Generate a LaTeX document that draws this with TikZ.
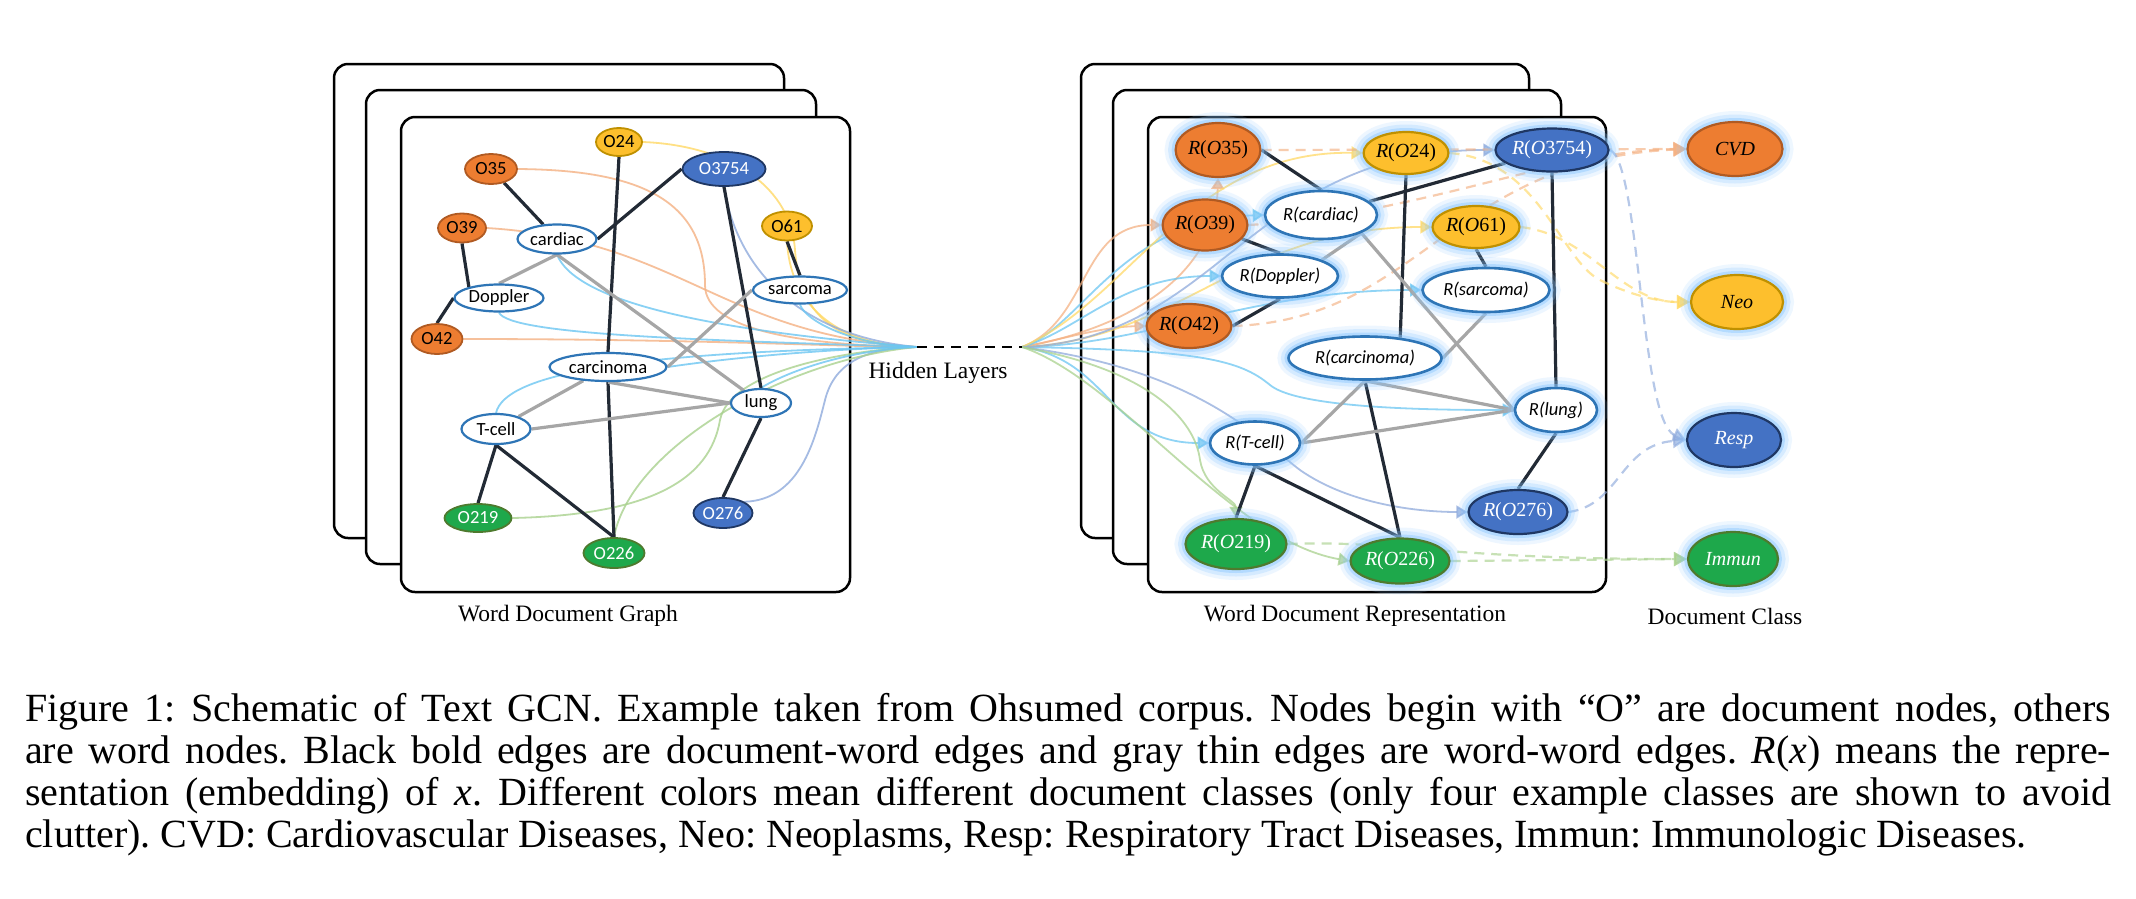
\documentclass[tikz,border=0pt]{standalone}
\usepackage{fontspec}
\setmainfont{Liberation Serif}
\newfontfamily\calibri{Carlito}
\usetikzlibrary{shapes.geometric,arrows.meta}
\frenchspacing

\definecolor{orfill}{HTML}{ED7D31}
\definecolor{orline}{HTML}{B05A22}
\definecolor{yefill}{HTML}{FDBF2D}
\definecolor{yeline}{HTML}{BF9000}
\definecolor{blfill}{HTML}{4472C4}
\definecolor{blline}{HTML}{1F3763}
\definecolor{grfill}{HTML}{1EA84B}
\definecolor{grline}{HTML}{4E7A2E}
\definecolor{wordline}{HTML}{2E75B6}
\definecolor{docline}{HTML}{222A35}
\definecolor{wordgray}{HTML}{A6A6A6}
\definecolor{glowblue}{HTML}{8CC8FF}
\definecolor{flowor}{HTML}{F4B183}
\definecolor{flowye}{HTML}{FFD966}
\definecolor{flowbl}{HTML}{8FAADC}
\definecolor{flowgr}{HTML}{A9D18E}
\definecolor{flowcy}{HTML}{6CC6F2}

\pgfdeclarelayer{frames}
\pgfdeclarelayer{flows}
\pgfdeclarelayer{edges}
\pgfsetlayers{frames,flows,edges,main}

% R(.) of a document node
\newcommand{\repdoc}[1]{\textit{R}(\textit{O}#1)}

\tikzset{
  frame/.style={draw, line width=2.5pt, fill=white, rounded corners=14pt},
  gdoc/.style={ellipse, line width=1.8pt, inner sep=0pt, font=\calibri\fontsize{18.6}{20}\selectfont},
  gword/.style={gdoc, draw=wordline, fill=white, line width=2.2pt},
  gor/.style={gdoc, draw=orline, fill=orfill},
  gye/.style={gdoc, draw=yeline, fill=yefill},
  gbl/.style={gdoc, draw=blline, fill=blfill, text=white},
  ggr/.style={gdoc, draw=grline, fill=grfill, text=white},
  glow/.style={preaction={draw=glowblue, line width=22pt, draw opacity=.15},
               preaction={draw=glowblue, line width=15pt, draw opacity=.25},
               preaction={draw=glowblue, line width=8pt, draw opacity=.45}},
  rdoc/.style={glow, ellipse, line width=2.2pt, inner sep=0pt, font=\fontsize{20}{22}\selectfont},
  rword/.style={glow, ellipse, draw=wordline, fill=white, line width=2.6pt, inner sep=0pt,
                font=\calibri\itshape\fontsize{18.5}{20}\selectfont},
  ror/.style={rdoc, draw=orline, fill=orfill},
  rye/.style={rdoc, draw=yeline, fill=yefill},
  rbl/.style={rdoc, draw=blline, fill=blfill, text=white},
  rgr/.style={rdoc, draw=grline, fill=grfill, text=white},
  docedge/.style={draw=docline, line width=3.2pt},
  wordedge/.style={draw=wordgray, line width=3.2pt},
  flowL/.style={line width=1.8pt, draw opacity=.8},
  flowR/.style={line width=1.8pt, opacity=.75, -{Triangle[width=13pt,length=11pt]}},
  classflow/.style={line width=2.2pt, dash pattern=on 10pt off 7pt, opacity=.65,
                    -{Triangle[width=14pt,length=13pt]}},
  lab/.style={inner sep=0pt, font=\fontsize{23.5}{26}\selectfont},
  caption/.style={anchor=base west, inner sep=0pt, text width=2086pt, align=justify,
                  font=\fontsize{40}{42.3}\selectfont}
}

\begin{document}
\begin{tikzpicture}[x=1pt, y=-1pt]
  \useasboundingbox (0,0) rectangle (2136,898);

  % stacked panels
  \begin{pgfonlayer}{frames}
    \draw[frame] (334,64) rectangle (784,538);
    \draw[frame] (366,90) rectangle (816,564);
    \draw[frame] (401,117) rectangle (850,592);
    \draw[frame] (1081,64) rectangle (1529,538);
    \draw[frame] (1113,90) rectangle (1561,564);
    \draw[frame] (1148,117) rectangle (1606,592);
  \end{pgfonlayer}

  % word document graph
  \node[gor, minimum width=52pt, minimum height=30pt] (O35) at (491,169) {O35};
  \node[gye, minimum width=46pt, minimum height=28pt] (O24) at (619,142) {O24};
  \node[gbl, minimum width=83pt, minimum height=34pt] (O3754) at (724,169) {O3754};
  \node[gor, minimum width=48pt, minimum height=29pt] (O39) at (462,228) {O39};
  \node[gword, minimum width=79pt, minimum height=29pt] (cardiac) at (557,239) {cardiac};
  \node[gye, minimum width=50pt, minimum height=29pt] (O61) at (787,226) {O61};
  \node[gword, minimum width=89pt, minimum height=27pt] (Doppler) at (499,298) {Doppler};
  \node[gword, minimum width=94pt, minimum height=27pt] (sarcoma) at (800,290) {sarcoma};
  \node[gor, minimum width=51pt, minimum height=30pt] (O42) at (437,339) {O42};
  \node[gword, minimum width=117pt, minimum height=28pt] (carcinoma) at (608,367) {carcinoma};
  \node[gword, minimum width=60pt, minimum height=28pt] (lung) at (761,403) {lung};
  \node[gword, minimum width=69pt, minimum height=30pt] (Tcell) at (496,429) {T-cell};
  \node[ggr, minimum width=67pt, minimum height=28pt] (O219) at (478,518) {O219};
  \node[ggr, minimum width=61pt, minimum height=30pt] (O226) at (614,553) {O226};
  \node[gbl, minimum width=59pt, minimum height=30pt] (O276) at (723,513) {O276};

  % word document representation
  \node[ror, minimum width=71pt, minimum height=54pt] (rO35) at (1218,150) {\repdoc{35}};
  \node[rye, minimum width=80pt, minimum height=42pt] (rO24) at (1406,153) {\repdoc{24}};
  \node[rbl, minimum width=94pt, minimum height=43pt] (rO3754) at (1552,150) {\repdoc{3754}};
  \node[ror, minimum width=72pt, minimum height=51pt] (rO39) at (1205,225) {\repdoc{39}};
  \node[rword, minimum width=112pt, minimum height=48pt] (rCardiac) at (1321,215) {R(cardiac)};
  \node[rye, minimum width=87pt, minimum height=42pt] (rO61) at (1476,227) {\repdoc{61}};
  \node[rword, minimum width=116pt, minimum height=43pt] (rDoppler) at (1280,276) {R(Doppler)};
  \node[rword, minimum width=127pt, minimum height=44pt] (rSarcoma) at (1486,290) {R(sarcoma)};
  \node[ror, minimum width=77pt, minimum height=44pt] (rO42) at (1189,326) {\repdoc{42}};
  \node[rword, minimum width=153pt, minimum height=43pt] (rCarcinoma) at (1365,358) {R(carcinoma)};
  \node[rword, minimum width=82pt, minimum height=44pt] (rLung) at (1556,410) {R(lung)};
  \node[rword, minimum width=90pt, minimum height=43pt] (rTcell) at (1255,443) {R(T-cell)};
  \node[rbl, minimum width=93pt, minimum height=44pt] (rO276) at (1518,512) {\repdoc{276}};
  \node[rgr, minimum width=101pt, minimum height=50pt] (rO219) at (1236,544) {\repdoc{219}};
  \node[rgr, minimum width=93pt, minimum height=45pt] (rO226) at (1400,561) {\repdoc{226}};

  % document classes
  \node[ror, minimum width=95pt, minimum height=54pt] (cvd) at (1735,149) {\textit{CVD}};
  \node[rye, minimum width=92pt, minimum height=54pt] (neo) at (1737,302) {\textit{Neo}};
  \node[rbl, minimum width=94pt, minimum height=54pt] (resp) at (1734,440) {\textit{Resp}};
  \node[rgr, minimum width=90pt, minimum height=54pt] (immun) at (1733,559) {\textit{Immun}};

  \coordinate (hubL) at (917,347);
  \coordinate (hubR) at (1022,347);
  \draw[line width=2.2pt, dash pattern=on 10pt off 7pt] (hubL) -- (hubR);

  \node[lab] (hidden) at (938,373) {Hidden Layers};
  \node[lab] (lgraph) at (568,616) {Word Document Graph};
  \node[lab] (lrep) at (1355,616) {Word Document Representation};
  \node[lab] (lclass) at (1725,616) {Document Class};

  \begin{pgfonlayer}{edges}
    % document-word edges
    \draw[docedge] (O35) -- (cardiac);
    \draw[docedge] (O3754.west) -- (cardiac.east);
    \draw[docedge] (O39.south) -- (Doppler.160);
    \draw[docedge] (Doppler.west) -- (O42.north);
    \draw[docedge] (O24.south) -- (carcinoma.north);
    \draw[docedge] (carcinoma.south) -- (O226.north);
    \draw[docedge] (O3754.south) -- (lung.north);
    \draw[docedge] (O61.south) -- (sarcoma.north);
    \draw[docedge] (lung.south) -- (O276.north);
    \draw[docedge] (Tcell.south) -- (O219.north);
    \draw[docedge] (Tcell.south) -- (O226.north);
    % word-word edges
    \draw[wordedge] (cardiac.south) -- (Doppler.north);
    \draw[wordedge] (cardiac.south) -- (lung);
    \draw[wordedge] (sarcoma.west) -- (carcinoma.east);
    \draw[wordedge] (carcinoma) -- (Tcell);
    \draw[wordedge] (carcinoma.south) -- (lung.west);
    \draw[wordedge] (Tcell.east) -- (lung.west);

    \draw[docedge] (rO35.east) -- (rCardiac.north);
    \draw[docedge] (rO3754) -- (rCardiac);
    \draw[docedge] (rO39) -- (rDoppler.north);
    \draw[docedge] (rDoppler.south) -- (rO42.east);
    \draw[docedge] (rO24.south) -- (rCarcinoma.30);
    \draw[docedge] (rCarcinoma.south) -- (rO226.north);
    \draw[docedge] (rO3754.south) -- (rLung.north);
    \draw[docedge] (rO61.south) -- (rSarcoma.north);
    \draw[docedge] (rLung.south) -- (rO276.north);
    \draw[docedge] (rTcell.south) -- (rO219.north);
    \draw[docedge] (rTcell.south) -- (rO226.north);
    \draw[wordedge] (rCardiac.-24) -- (rDoppler.21);
    \draw[wordedge] (rCardiac.-24) -- (rLung.west);
    \draw[wordedge] (rSarcoma.south) -- (rCarcinoma.east);
    \draw[wordedge] (rCarcinoma.south) -- (rTcell.east);
    \draw[wordedge] (rCarcinoma.south) -- (rLung.west);
    \draw[wordedge] (rTcell.east) -- (rLung.west);
  \end{pgfonlayer}

  \begin{pgfonlayer}{flows}
    % into the hidden layers
    \draw[flowL, flowor] (O35.east) .. controls (640,170) and (705,200) .. (705,285) .. controls (705,330) and (800,345) .. (hubL);
    \draw[flowL, flowor] (O39.east) .. controls (680,240) and (720,335) .. (hubL);
    \draw[flowL, flowor] (O42.east) .. controls (700,339) and (850,347) .. (hubL);
    \draw[flowL, flowye] (O24.east) .. controls (720,145) and (790,180) .. (795,250) .. controls (800,320) and (840,345) .. (hubL);
    \draw[flowL, flowye] (O61.south) .. controls (790,300) and (830,345) .. (hubL);
    \draw[flowL, flowbl] (O3754.south) .. controls (735,260) and (790,335) .. (hubL);
    \draw[flowL, flowbl] (O276.north east) .. controls (800,500) and (815,440) .. (825,400) .. controls (835,360) and (870,348) .. (hubL);
    \draw[flowL, flowgr] (O219.east) .. controls (650,515) and (710,480) .. (720,420) .. controls (730,370) and (850,350) .. (hubL);
    \draw[flowL, flowgr] (O226.north) .. controls (630,450) and (780,360) .. (hubL);
    \draw[flowL, flowcy] (cardiac.south) .. controls (575,300) and (700,330) .. (hubL);
    \draw[flowL, flowcy] (Doppler.south) .. controls (510,335) and (700,340) .. (hubL);
    \draw[flowL, flowcy] (sarcoma.south) .. controls (805,320) and (850,345) .. (hubL);
    \draw[flowL, flowcy] (carcinoma.east) .. controls (750,355) and (850,348) .. (hubL);
    \draw[flowL, flowcy] (Tcell.north) .. controls (505,375) and (620,352) .. (hubL);
    \draw[flowL, flowcy] (lung.north) .. controls (790,370) and (850,350) .. (hubL);

    % out of the hidden layers
    \draw[flowR, flowor] (hubR) .. controls (1120,330) and (1215,280) .. (rO35.south);
    \draw[flowR, flowor] (hubR) .. controls (1090,320) and (1080,225) .. (rO39.west);
    \draw[flowR, flowor] (hubR) .. controls (1060,340) and (1100,327) .. (rO42.west);
    \draw[flowR, flowcy] (hubR) .. controls (1080,330) and (1120,220) .. (rCardiac.west);
    \draw[flowR, flowcy] (hubR) .. controls (1080,330) and (1120,276) .. (rDoppler.west);
    \draw[flowR, flowcy] (hubR) .. controls (1150,345) and (1250,290) .. (rSarcoma.west);
    \draw[flowR, flowcy] (hubR) .. controls (1200,350) and (1240,360) .. (1270,385) .. controls (1300,410) and (1450,410) .. (rLung.west);
    \draw[flowR, flowcy] (hubR) .. controls (1110,360) and (1110,443) .. (rTcell.west);
    \draw[flowR, flowye] (hubR) .. controls (1130,300) and (1190,150) .. (rO24.west);
    \draw[flowR, flowye] (hubR) .. controls (1180,340) and (1240,227) .. (rO61.west);
    \draw[flowR, flowbl] (hubR) .. controls (1220,340) and (1250,150) .. (rO3754.west);
    \draw[flowR, flowbl] (hubR) .. controls (1200,370) and (1260,440) .. (1300,470) .. controls (1350,505) and (1420,512) .. (rO276.west);
    \draw[flowR, flowgr] (hubR) .. controls (1150,370) and (1195,420) .. (1200,460) .. controls (1205,490) and (1236,500) .. (rO219.north);
    \draw[flowR, flowgr] (hubR) .. controls (1120,380) and (1230,540) .. (rO226.west);

    % to the document classes
    \draw[classflow, flowor] (rO35.east) -- (cvd.west);
    \draw[classflow, flowor] (rO39.east) .. controls (1420,215) and (1560,150) .. (cvd.west);
    \draw[classflow, flowor] (rO42.east) .. controls (1420,320) and (1450,160) .. (cvd.west);
    \draw[classflow, flowye] (rO24.east) .. controls (1540,160) and (1560,260) .. (1600,280) .. controls (1630,295) and (1660,302) .. (neo.west);
    \draw[classflow, flowye] (rO61.east) .. controls (1590,235) and (1620,302) .. (neo.west);
    \draw[classflow, flowbl] (rO3754.east) .. controls (1640,160) and (1640,420) .. (resp.west);
    \draw[classflow, flowbl] (rO276.east) .. controls (1620,505) and (1620,445) .. (resp.west);
    \draw[classflow, flowgr] (rO219.east) .. controls (1400,540) and (1440,559) .. (immun.west);
    \draw[classflow, flowgr] (rO226.east) -- (immun.west);
  \end{pgfonlayer}

  \node[caption] (cap) at (25,721) {Figure 1: Schematic of Text GCN. Example taken from Ohsumed corpus. Nodes begin with “O” are document nodes, others\linebreak
    are word nodes. Black bold edges are document-word edges and gray thin edges are word-word edges. \textit{R}(\textit{x}) means the repre-\linebreak
    sentation (embedding) of \textit{x}. Different colors mean different document classes (only four example classes are shown to avoid\linebreak
    clutter). CVD: Cardiovascular Diseases, Neo: Neoplasms, Resp: Respiratory Tract Diseases, Immun: Immunologic Diseases.};
\end{tikzpicture}
\end{document}
